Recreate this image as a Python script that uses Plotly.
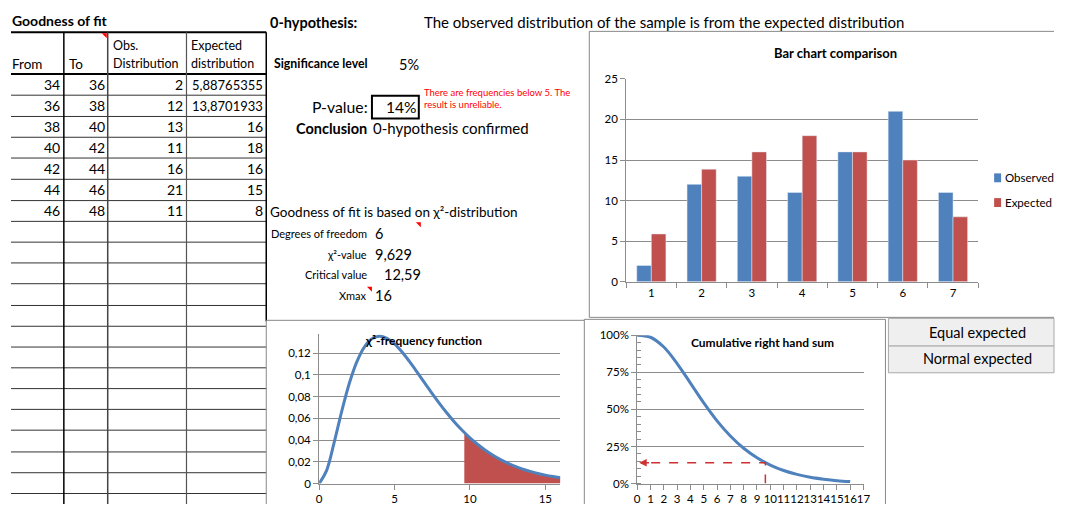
import plotly.graph_objects as go

# figure sized to sit inside the window next to the page's own 8px margin
W, H = 1053, 502

# ---------------- data ----------------
bin_from = [34, 36, 38, 40, 42, 44, 46]
bin_to = [36, 38, 40, 42, 44, 46, 48]
observed = [2, 12, 13, 11, 16, 21, 11]
expected = [5.88765355, 13.8701933, 16, 18, 16, 15, 8]
categories = ["1", "2", "3", "4", "5", "6", "7"]
series_names = ["Observed", "Expected"]

significance = "5%"
p_value = 0.14
dof = 6
chi_value = 9.629
critical_value = "12,59"
xmax = 16

# chi-square (df=6) density
chi_x = [0, 0.5, 1, 1.5, 2, 2.5, 3, 3.5, 4, 4.5, 5, 5.5, 6, 6.5, 7, 7.5, 8,
         8.5, 9, 9.5, 10, 10.5, 11, 11.5, 12, 12.5, 13, 13.5, 14, 14.5, 15, 15.5, 16]
chi_y = [0, 0.0122, 0.0379, 0.0664, 0.0920, 0.1119, 0.1255, 0.1330, 0.1353, 0.1334,
         0.1283, 0.1209, 0.1120, 0.1024, 0.0925, 0.0827, 0.0733, 0.0644, 0.0562,
         0.0488, 0.0421, 0.0362, 0.0309, 0.0263, 0.0223, 0.0189, 0.0159, 0.0133,
         0.0112, 0.0093, 0.0078, 0.0065, 0.0054]
tail_x = [9.629, 10, 10.5, 11, 11.5, 12, 12.5, 13, 13.5, 14, 14.5, 15, 15.5, 16]
tail_y = [0.0470, 0.0421, 0.0362, 0.0309, 0.0263, 0.0223, 0.0189, 0.0159, 0.0133,
          0.0112, 0.0093, 0.0078, 0.0065, 0.0054]

# cumulative right hand sum
cum_x = [0, 1, 2, 3, 4, 5, 6, 7, 8, 9, 10, 11, 12, 13, 14, 15, 16]
cum_y = [1.0, 0.986, 0.920, 0.809, 0.677, 0.544, 0.423, 0.321, 0.238, 0.174,
         0.125, 0.088, 0.062, 0.043, 0.030, 0.020, 0.014]

BLUE = "#4f81bd"
RED = "#c0504d"
GRID = "#8c8c8c"
FONT = "Lato"


def X(px):
    return min(max((px - 9) / 0.9934, 0), W) / W


def Y(py):
    return 1 - min(max(1.01588 * py - 12.654, 0), H) / H


def fmt(v):
    if float(v).is_integer():
        return str(int(v))
    return str(v).replace(".", ",")


fig = go.Figure()

# ---- bar chart ----
fig.add_trace(go.Bar(x=categories, y=observed, name=series_names[0], marker_color=BLUE,
                     xaxis="x", yaxis="y", showlegend=False))
fig.add_trace(go.Bar(x=categories, y=expected, name=series_names[1], marker_color=RED,
                     xaxis="x", yaxis="y", showlegend=False))

# ---- chi-square density ----
fig.add_trace(go.Scatter(x=tail_x, y=tail_y, mode="lines", fill="tozeroy",
                         fillcolor=RED, line=dict(width=0, color=RED, shape="spline"),
                         xaxis="x2", yaxis="y2", showlegend=False, hoverinfo="skip"))
fig.add_trace(go.Scatter(x=chi_x, y=chi_y, mode="lines",
                         line=dict(width=3, color=BLUE, shape="spline"),
                         xaxis="x2", yaxis="y2", showlegend=False))

# ---- cumulative ----
fig.add_trace(go.Scatter(x=cum_x, y=cum_y, mode="lines",
                         line=dict(width=3, color=BLUE, shape="spline"),
                         xaxis="x3", yaxis="y3", showlegend=False))
fig.add_trace(go.Scatter(x=[chi_value, chi_value, 0.3], y=[0, p_value, p_value], mode="lines",
                         line=dict(width=1.5, color="#d03030", dash="dash"),
                         xaxis="x3", yaxis="y3", showlegend=False, hoverinfo="skip"))

shapes = []
ann = []


def line(x0, y0, x1, y1, color="#333333", width=1):
    shapes.append(dict(type="line", xref="paper", yref="paper", x0=X(x0), y0=Y(y0),
                       x1=X(x1), y1=Y(y1), line=dict(color=color, width=width)))


def rect(x0, y0, x1, y1, color="#888888", width=1, fill=None, layer="below"):
    d = dict(type="rect", xref="paper", yref="paper", x0=X(x0), y0=Y(y0),
             x1=X(x1), y1=Y(y1), line=dict(color=color, width=width), layer=layer)
    if fill:
        d["fillcolor"] = fill
    shapes.append(d)


def tri(x, y):
    shapes.append(dict(type="path", xref="paper", yref="paper",
                       path=f"M {X(x-5)} {Y(y)} L {X(x)} {Y(y)} L {X(x)} {Y(y+5)} Z",
                       fillcolor="red", line=dict(width=0)))


def txt(x, y, s, size=14, anchor="left", bold=False, color="black"):
    if bold:
        s = "<b>" + s + "</b>"
    ann.append(dict(x=X(x), y=Y(y), xref="paper", yref="paper", text=s, showarrow=False,
                    xanchor=anchor, yanchor="middle", font=dict(size=size, color=color, family=FONT),
                    borderpad=0))


# table
txt(9, 18, "Goodness of fit", size=14, bold=True)
line(7, 30, 265, 30, color="#000000", width=2)
line(7, 72, 265, 72, color="#000000", width=2)
row_lines = [93.5, 115, 136, 157, 178.5, 200, 221, 242, 263, 284, 306, 327, 348,
             369, 390, 411, 432, 454, 475, 496]
for ry in row_lines:
    line(7, ry, 265, ry, color="#333333", width=1)
line(62, 30, 62, 518, color="#000000", width=1.5)
line(106, 30, 106, 518, color="#444444", width=1.5)
line(185, 30, 185, 518, color="#555555", width=1.2)
line(265, 30, 265, 322, color="#000000", width=1.5)
tri(105, 31)

txt(9, 62, "From", size=13.5)
txt(66, 62, "To", size=13.5)
txt(110, 43, "Obs.", size=12.5)
txt(110, 61, "Distribution", size=12.5)
txt(189, 43, "Expected", size=12.5)
txt(189, 61, "distribution", size=12.5)
row_centers = [83, 104, 125, 146.5, 168, 189, 210]
for i, cy in enumerate(row_centers):
    txt(59, cy, str(bin_from[i]), size=14, anchor="right")
    txt(104, cy, str(bin_to[i]), size=14, anchor="right")
    txt(183, cy, str(observed[i]), size=14, anchor="right")
    txt(263, cy, fmt(expected[i]), size=13 if i < 2 else 14, anchor="right")

# middle texts
txt(268, 20, "0-hypothesis:", size=14.5, bold=True)
txt(422, 20, "The observed distribution of the sample is from the expected distribution", size=15)
txt(272, 61, "Significance level", size=12.3, bold=True)
txt(397, 62, significance, size=14.5)
txt(368, 105, "P-value:", size=15.8, anchor="right")
rect(371, 94, 418, 117, color="#000000", width=2)
txt(416, 105, f"{round(p_value*100)}%", size=15.5, anchor="right")
txt(422, 91, "There are frequencies below 5. The", size=9.5, color="#ff0000")
txt(422, 103, "result is unreliable.", size=9.5, color="#ff0000")
txt(367, 127, "Conclusion", size=14.5, anchor="right", bold=True)
txt(371, 127, "0-hypothesis confirmed", size=15)
txt(268, 212, "Goodness of fit is based on χ²-distribution", size=13.5)
tri(420, 222)
txt(367, 233, "Degrees of freedom", size=11, anchor="right")
txt(373, 233, str(dof), size=14.5)
txt(367, 254, "χ²-value", size=11, anchor="right")
txt(373, 254, fmt(chi_value), size=14.5)
txt(367, 275, "Critical value", size=11, anchor="right")
txt(382, 275, critical_value, size=14.5)
txt(367, 296, "Xmax", size=11, anchor="right")
tri(371, 287)
txt(373, 296, str(xmax), size=14.5)

# chart frames (open on the sides cut by the window)
line(589, 29, 1069, 29, color="#888888")
line(589, 29, 589, 318, color="#888888")
line(589, 318, 1069, 318, color="#888888")
line(265, 321, 584, 321, color="#888888")
line(265, 321, 265, 518, color="#888888")
line(584, 320, 886, 320, color="#888888")
line(584, 320, 584, 518, color="#888888")
line(886, 320, 886, 518, color="#888888")

# buttons
rect(889, 319, 1069, 347, color="#a8a8a8", fill="#efefef")
rect(889, 347, 1069, 374, color="#a8a8a8", fill="#efefef")
txt(978, 333, "Equal expected", size=14.5, anchor="center")
txt(978, 360, "Normal expected", size=14.5, anchor="center")

# chart titles
txt(836, 51, "Bar chart comparison", size=13, anchor="center", bold=True)
txt(423, 341, "χ²-frequency function", size=12, anchor="center", bold=True)
txt(763, 343, "Cumulative right hand sum", size=12, anchor="center", bold=True)

# legend of the bar chart
for name, col, ly in [(series_names[0], BLUE, 177), (series_names[1], RED, 202)]:
    rect(995, ly - 4.5, 1002, ly + 4.5, color=col, width=0, fill=col, layer="above")
    txt(1005, ly, name, size=11.5)

# arrow head on the cumulative chart
ann.append(dict(x=0.15, y=p_value, ax=1.0, ay=p_value, xref="x3", yref="y3",
                axref="x3", ayref="y3", showarrow=True, arrowhead=2, arrowsize=1,
                arrowwidth=1.5, arrowcolor="#d03030", text=""))

axis_common = dict(showline=True, linecolor=GRID, linewidth=1, ticks="outside",
                   ticklen=5, tickcolor=GRID, tickfont=dict(size=11.5, family=FONT, color="#000"),
                   zeroline=False, fixedrange=True)

fig.update_layout(
    width=W, height=H, margin=dict(l=0, r=0, t=0, b=0),
    paper_bgcolor="white", plot_bgcolor="white",
    font=dict(family=FONT, color="black"),
    separators=", ",
    barmode="group", bargap=0.42, bargroupgap=0,
    showlegend=False,
    xaxis=dict(domain=[X(626), X(979)], anchor="y", type="category",
               tickson="boundaries", showgrid=False, **axis_common),
    yaxis=dict(domain=[Y(282), Y(77)], anchor="x", range=[0, 25], dtick=5,
               showgrid=True, gridcolor=GRID, **axis_common),
    xaxis2=dict(domain=[X(318), X(560)], anchor="y2", range=[0, 16], dtick=5,
                showgrid=False, **axis_common),
    yaxis2=dict(domain=[Y(486), Y(335)], anchor="x2", range=[0, 0.1373], dtick=0.02,
                showgrid=True, gridcolor=GRID, **axis_common),
    xaxis3=dict(domain=[X(637), X(864)], anchor="y3", range=[0, 17], dtick=1,
                tickangle=0, showgrid=False, **axis_common),
    yaxis3=dict(domain=[Y(486), Y(336)], anchor="x3", range=[0, 1], dtick=0.25,
                tickformat=".0%", showgrid=True, gridcolor=GRID,
                minor=dict(ticks="inside", dtick=0.05, ticklen=4, tickcolor=GRID, showgrid=False),
                **axis_common),
    shapes=shapes,
    annotations=ann,
)

fig.write_html("out.html", config={"displayModeBar": False, "staticPlot": True})
